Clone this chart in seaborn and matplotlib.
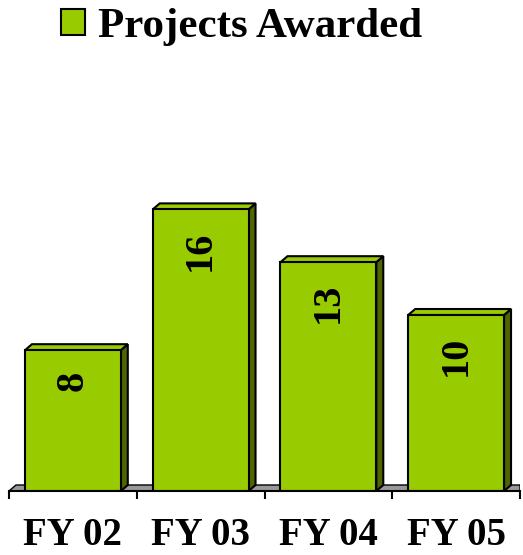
import matplotlib
matplotlib.use("Agg")
import matplotlib.pyplot as plt
import seaborn as sns
import pandas as pd
from matplotlib.patches import Polygon, Patch

# data
years = ["FY 02", "FY 03", "FY 04", "FY 05"]
projects = [8, 16, 13, 10]
series_name = "Projects Awarded"

FRONT = "#99CC00"
SIDE = "#4D6600"
FLOOR = "#999999"

sns.set_theme(style="white")
plt.rcParams['font.family'] = ['Liberation Serif', 'DejaVu Serif']
plt.rcParams['text.color'] = 'black'

W, H = 523, 555
fig = plt.figure(figsize=(W / 100, H / 100), dpi=100)
# axes placed in pixels: x from 9 to 520, baseline at y=491
ax = fig.add_axes([9 / W, (H - 491) / H, 511 / W, 431 / H])

df = pd.DataFrame({"Year": years, "Projects": projects})
sns.barplot(data=df, x="Year", y="Projects", color=FRONT, width=0.75,
            edgecolor="black", linewidth=1.5, saturation=1, ax=ax, zorder=3)

ax.set_xlim(-0.5, 3.5)
ax.set_ylim(0, 431 / 17.6)

# pixel offsets of the fake 3D depth, converted to data units
dx = 7 * 4.0 / 511
dy = 6 * ax.get_ylim()[1] / 431

# floor strip
floor = Polygon([(-0.5, 0), (-0.5 + dx, dy), (3.5, dy), (3.5, 0)], closed=True,
                facecolor=FLOOR, edgecolor="black", linewidth=1.0, zorder=1)
ax.add_patch(floor)

for bar, val in zip(ax.patches[:len(projects)], projects):
    x0 = bar.get_x()
    x1 = x0 + bar.get_width()
    h = bar.get_height()
    side = Polygon([(x1, 0), (x1 + dx, dy), (x1 + dx, h + dy), (x1, h)], closed=True,
                   facecolor=SIDE, edgecolor="black", linewidth=1.5, zorder=2)
    top = Polygon([(x0, h), (x0 + dx, h + dy), (x1 + dx, h + dy), (x1, h)], closed=True,
                  facecolor=FRONT, edgecolor="black", linewidth=1.5, zorder=2)
    ax.add_patch(side)
    ax.add_patch(top)
    ax.annotate(str(val), xy=(x0 + bar.get_width() / 2, h), xytext=(0, -15),
                textcoords="offset points", rotation=90, ha="center", va="top",
                fontsize=29, fontweight="bold", color="black", zorder=4)

for s in ["top", "left", "right"]:
    ax.spines[s].set_visible(False)
ax.spines["bottom"].set_color("black")
ax.spines["bottom"].set_linewidth(1.5)
ax.spines["bottom"].set_zorder(5)
ax.set_yticks([])
ax.set_xlabel("")
ax.set_ylabel("")

ax.set_xticks([-0.5, 0.5, 1.5, 2.5, 3.5], minor=True)
ax.tick_params(axis="x", which="minor", direction="out", length=6, width=1.5,
               color="black", bottom=True)
ax.tick_params(axis="x", which="major", length=0, pad=19)
for lbl in ax.get_xticklabels():
    lbl.set_fontsize(28)
    lbl.set_fontweight("bold")
    lbl.set_color("black")

handle = Patch(facecolor=FRONT, edgecolor="black", linewidth=1.5)
fig.legend([handle], [series_name], loc="upper left",
           bbox_to_anchor=(61 / W, 1 - 8 / H), frameon=False,
           prop={"family": "Liberation Serif", "weight": "bold", "size": 31},
           handlelength=0.56, handleheight=0.56, handletextpad=0.3,
           borderpad=0, borderaxespad=0, labelcolor="black")

fig.savefig("out.png", dpi=100)
